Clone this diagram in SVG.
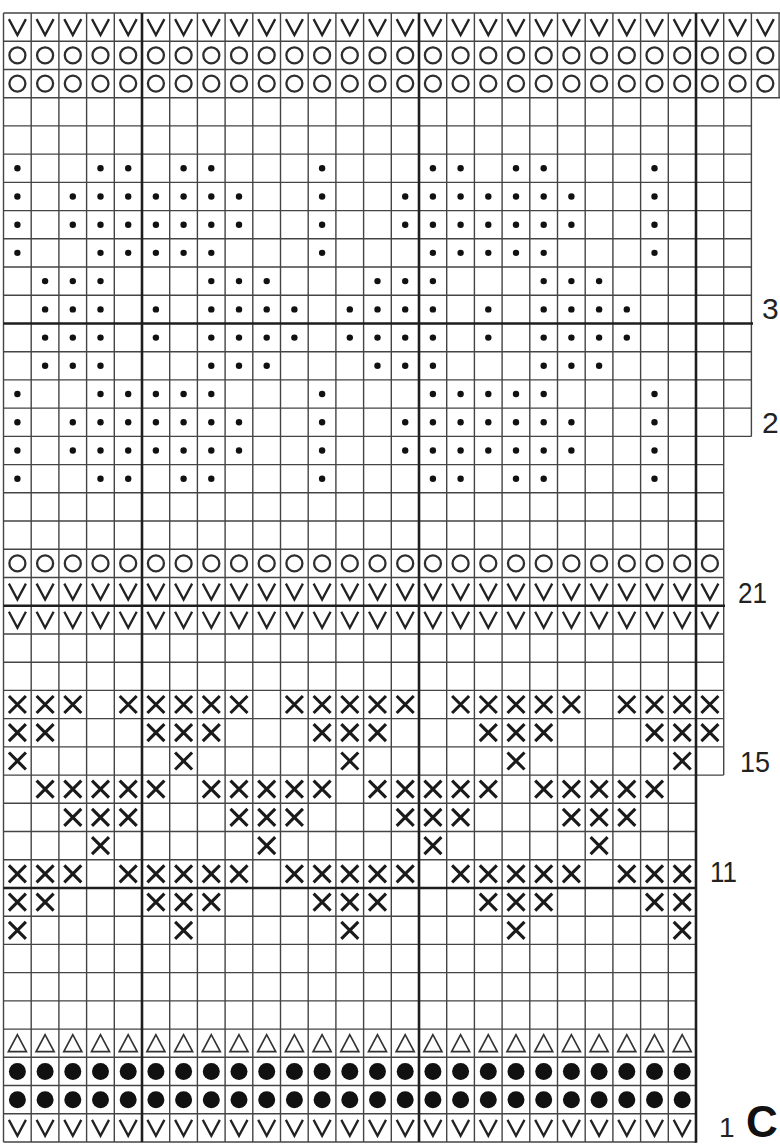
<svg xmlns="http://www.w3.org/2000/svg" width="780" height="1144" viewBox="0 0 780 1144">
<style>
.g{fill:none;stroke:#444;stroke-width:1.4}
.gt{fill:none;stroke:#1e1e1e;stroke-width:2.6}
.v{fill:none;stroke:#222;stroke-width:2.3;stroke-linejoin:miter}
.o{fill:none;stroke:#2e2e2e;stroke-width:2.3}
.d{fill:#111}
.x{fill:none;stroke:#1a1a1a;stroke-width:3.1}
.t{fill:none;stroke:#333;stroke-width:1.7}
.f{fill:#111}
.lb{font-family:"Liberation Sans",Arial,sans-serif;font-size:30px;fill:#222}
</style>
<defs>
<path id="sv" class="v" d="M-8.5,-8L0,8L8.5,-8"/>
<circle id="so" class="o" r="8"/>
<circle id="sd" class="d" r="3.2"/>
<path id="sx" class="x" d="M-8.5,-8.5L8.5,8.5M8.5,-8.5L-8.5,8.5"/>
<path id="st" class="t" d="M0,-8.5L-9,8.5H9Z"/>
<circle id="sf" class="f" r="8.5"/>
<g id="rv"><use href="#sv" x="17.4"/><use href="#sv" x="45.1"/><use href="#sv" x="72.8"/><use href="#sv" x="100.5"/><use href="#sv" x="128.2"/><use href="#sv" x="155.9"/><use href="#sv" x="183.6"/><use href="#sv" x="211.3"/><use href="#sv" x="239"/><use href="#sv" x="266.7"/><use href="#sv" x="294.4"/><use href="#sv" x="322.1"/><use href="#sv" x="349.8"/><use href="#sv" x="377.5"/><use href="#sv" x="405.2"/><use href="#sv" x="432.9"/><use href="#sv" x="460.6"/><use href="#sv" x="488.3"/><use href="#sv" x="516"/><use href="#sv" x="543.7"/><use href="#sv" x="571.4"/><use href="#sv" x="599.1"/><use href="#sv" x="626.8"/><use href="#sv" x="654.5"/><use href="#sv" x="682.2"/></g>
<g id="ro"><use href="#so" x="17.4"/><use href="#so" x="45.1"/><use href="#so" x="72.8"/><use href="#so" x="100.5"/><use href="#so" x="128.2"/><use href="#so" x="155.9"/><use href="#so" x="183.6"/><use href="#so" x="211.3"/><use href="#so" x="239"/><use href="#so" x="266.7"/><use href="#so" x="294.4"/><use href="#so" x="322.1"/><use href="#so" x="349.8"/><use href="#so" x="377.5"/><use href="#so" x="405.2"/><use href="#so" x="432.9"/><use href="#so" x="460.6"/><use href="#so" x="488.3"/><use href="#so" x="516"/><use href="#so" x="543.7"/><use href="#so" x="571.4"/><use href="#so" x="599.1"/><use href="#so" x="626.8"/><use href="#so" x="654.5"/><use href="#so" x="682.2"/></g>
<g id="rt"><use href="#st" x="17.4"/><use href="#st" x="45.1"/><use href="#st" x="72.8"/><use href="#st" x="100.5"/><use href="#st" x="128.2"/><use href="#st" x="155.9"/><use href="#st" x="183.6"/><use href="#st" x="211.3"/><use href="#st" x="239"/><use href="#st" x="266.7"/><use href="#st" x="294.4"/><use href="#st" x="322.1"/><use href="#st" x="349.8"/><use href="#st" x="377.5"/><use href="#st" x="405.2"/><use href="#st" x="432.9"/><use href="#st" x="460.6"/><use href="#st" x="488.3"/><use href="#st" x="516"/><use href="#st" x="543.7"/><use href="#st" x="571.4"/><use href="#st" x="599.1"/><use href="#st" x="626.8"/><use href="#st" x="654.5"/><use href="#st" x="682.2"/></g>
<g id="rf"><use href="#sf" x="17.4"/><use href="#sf" x="45.1"/><use href="#sf" x="72.8"/><use href="#sf" x="100.5"/><use href="#sf" x="128.2"/><use href="#sf" x="155.9"/><use href="#sf" x="183.6"/><use href="#sf" x="211.3"/><use href="#sf" x="239"/><use href="#sf" x="266.7"/><use href="#sf" x="294.4"/><use href="#sf" x="322.1"/><use href="#sf" x="349.8"/><use href="#sf" x="377.5"/><use href="#sf" x="405.2"/><use href="#sf" x="432.9"/><use href="#sf" x="460.6"/><use href="#sf" x="488.3"/><use href="#sf" x="516"/><use href="#sf" x="543.7"/><use href="#sf" x="571.4"/><use href="#sf" x="599.1"/><use href="#sf" x="626.8"/><use href="#sf" x="654.5"/><use href="#sf" x="682.2"/></g>
<g id="dA"><use href="#sd" x="17.4"/><use href="#sd" x="100.5"/><use href="#sd" x="128.2"/><use href="#sd" x="183.6"/><use href="#sd" x="211.3"/><use href="#sd" x="322.1"/><use href="#sd" x="432.9"/><use href="#sd" x="460.6"/><use href="#sd" x="516"/><use href="#sd" x="543.7"/><use href="#sd" x="654.5"/></g>
<g id="dB"><use href="#sd" x="17.4"/><use href="#sd" x="72.8"/><use href="#sd" x="100.5"/><use href="#sd" x="128.2"/><use href="#sd" x="155.9"/><use href="#sd" x="183.6"/><use href="#sd" x="211.3"/><use href="#sd" x="239"/><use href="#sd" x="322.1"/><use href="#sd" x="405.2"/><use href="#sd" x="432.9"/><use href="#sd" x="460.6"/><use href="#sd" x="488.3"/><use href="#sd" x="516"/><use href="#sd" x="543.7"/><use href="#sd" x="571.4"/><use href="#sd" x="654.5"/></g>
<g id="dC"><use href="#sd" x="17.4"/><use href="#sd" x="100.5"/><use href="#sd" x="128.2"/><use href="#sd" x="155.9"/><use href="#sd" x="183.6"/><use href="#sd" x="211.3"/><use href="#sd" x="322.1"/><use href="#sd" x="432.9"/><use href="#sd" x="460.6"/><use href="#sd" x="488.3"/><use href="#sd" x="516"/><use href="#sd" x="543.7"/><use href="#sd" x="654.5"/></g>
<g id="dD"><use href="#sd" x="45.1"/><use href="#sd" x="72.8"/><use href="#sd" x="100.5"/><use href="#sd" x="211.3"/><use href="#sd" x="239"/><use href="#sd" x="266.7"/><use href="#sd" x="377.5"/><use href="#sd" x="405.2"/><use href="#sd" x="432.9"/><use href="#sd" x="543.7"/><use href="#sd" x="571.4"/><use href="#sd" x="599.1"/></g>
<g id="dE"><use href="#sd" x="45.1"/><use href="#sd" x="72.8"/><use href="#sd" x="100.5"/><use href="#sd" x="155.9"/><use href="#sd" x="211.3"/><use href="#sd" x="239"/><use href="#sd" x="266.7"/><use href="#sd" x="294.4"/><use href="#sd" x="349.8"/><use href="#sd" x="377.5"/><use href="#sd" x="405.2"/><use href="#sd" x="432.9"/><use href="#sd" x="488.3"/><use href="#sd" x="543.7"/><use href="#sd" x="571.4"/><use href="#sd" x="599.1"/><use href="#sd" x="626.8"/></g>
<g id="x1"><use href="#sx" x="17.4"/><use href="#sx" x="45.1"/><use href="#sx" x="72.8"/><use href="#sx" x="128.2"/><use href="#sx" x="155.9"/><use href="#sx" x="183.6"/><use href="#sx" x="211.3"/><use href="#sx" x="239"/><use href="#sx" x="294.4"/><use href="#sx" x="322.1"/><use href="#sx" x="349.8"/><use href="#sx" x="377.5"/><use href="#sx" x="405.2"/><use href="#sx" x="460.6"/><use href="#sx" x="488.3"/><use href="#sx" x="516"/><use href="#sx" x="543.7"/><use href="#sx" x="571.4"/><use href="#sx" x="626.8"/><use href="#sx" x="654.5"/><use href="#sx" x="682.2"/></g>
<g id="x2"><use href="#sx" x="17.4"/><use href="#sx" x="45.1"/><use href="#sx" x="155.9"/><use href="#sx" x="183.6"/><use href="#sx" x="211.3"/><use href="#sx" x="322.1"/><use href="#sx" x="349.8"/><use href="#sx" x="377.5"/><use href="#sx" x="488.3"/><use href="#sx" x="516"/><use href="#sx" x="543.7"/><use href="#sx" x="654.5"/><use href="#sx" x="682.2"/></g>
<g id="x3"><use href="#sx" x="17.4"/><use href="#sx" x="183.6"/><use href="#sx" x="349.8"/><use href="#sx" x="516"/><use href="#sx" x="682.2"/></g>
<g id="x4"><use href="#sx" x="45.1"/><use href="#sx" x="72.8"/><use href="#sx" x="100.5"/><use href="#sx" x="128.2"/><use href="#sx" x="155.9"/><use href="#sx" x="211.3"/><use href="#sx" x="239"/><use href="#sx" x="266.7"/><use href="#sx" x="294.4"/><use href="#sx" x="322.1"/><use href="#sx" x="377.5"/><use href="#sx" x="405.2"/><use href="#sx" x="432.9"/><use href="#sx" x="460.6"/><use href="#sx" x="488.3"/><use href="#sx" x="543.7"/><use href="#sx" x="571.4"/><use href="#sx" x="599.1"/><use href="#sx" x="626.8"/><use href="#sx" x="654.5"/></g>
<g id="x5"><use href="#sx" x="72.8"/><use href="#sx" x="100.5"/><use href="#sx" x="128.2"/><use href="#sx" x="239"/><use href="#sx" x="266.7"/><use href="#sx" x="294.4"/><use href="#sx" x="405.2"/><use href="#sx" x="432.9"/><use href="#sx" x="460.6"/><use href="#sx" x="571.4"/><use href="#sx" x="599.1"/><use href="#sx" x="626.8"/></g>
<g id="x6"><use href="#sx" x="100.5"/><use href="#sx" x="266.7"/><use href="#sx" x="432.9"/><use href="#sx" x="599.1"/></g>
</defs>
<rect width="780" height="1144" fill="#fff"/>
<g id="grid">
<path class="g" d="M3.5,13H780M3.5,41.2H780M3.5,69.45H780M3.5,97.7H780
M3.5,125.9H751.4M3.5,154.1H751.4M3.5,182.35H751.4M3.5,210.6H751.4M3.5,238.8H751.4M3.5,267H751.4M3.5,295.25H751.4M3.5,351.7H751.4M3.5,379.9H751.4M3.5,408.15H751.4M3.5,436.4H751.4
M3.5,464.6H723.7M3.5,492.8H723.7M3.5,521.05H723.7M3.5,549.3H723.7M3.5,577.5H723.7M3.5,633.95H723.7M3.5,662.2H723.7M3.5,690.4H723.7M3.5,718.6H723.7M3.5,746.85H723.7M3.5,775.1H723.7
M3.5,803.3H696M3.5,831.5H696M3.5,859.75H696M3.5,916.2H696M3.5,944.4H696M3.5,972.65H696M3.5,1000.9H696M3.5,1029.1H696M3.5,1057.3H696M3.5,1085.55H696M3.5,1113.8H696M3.5,1142H696
M3.5,13V1142M31.2,13V1142M58.9,13V1142M86.6,13V1142M114.3,13V1142M169.7,13V1142M197.4,13V1142M225.1,13V1142M252.8,13V1142M280.5,13V1142M308.2,13V1142M335.9,13V1142M363.6,13V1142M391.3,13V1142M446.7,13V1142M474.4,13V1142M502.1,13V1142M529.8,13V1142M557.5,13V1142M585.2,13V1142M612.9,13V1142M640.6,13V1142M668.3,13V1142
M723.7,13V775.1M751.4,13V436.4M779.1,13V97.7"/>
<path class="gt" d="M3.5,323.5H753M3.5,605.7H725M3.5,888H697M142,13V1142M419,13V1142M696,13V1142.7"/>
</g>
<g id="symbols">
<use href="#rv" y="27.1"/><use href="#sv" x="709.9" y="27.1"/><use href="#sv" x="737.6" y="27.1"/><use href="#sv" x="765.3" y="27.1"/>
<use href="#ro" y="55.3"/><use href="#so" x="709.9" y="55.3"/><use href="#so" x="737.6" y="55.3"/><use href="#so" x="765.3" y="55.3"/>
<use href="#ro" y="83.6"/><use href="#so" x="709.9" y="83.6"/><use href="#so" x="737.6" y="83.6"/><use href="#so" x="765.3" y="83.6"/>
<use href="#dA" y="168.2"/>
<use href="#dB" y="196.5"/>
<use href="#dB" y="224.7"/>
<use href="#dC" y="252.9"/>
<use href="#dD" y="281.1"/>
<use href="#dE" y="309.4"/>
<use href="#dE" y="337.6"/>
<use href="#dD" y="365.8"/>
<use href="#dC" y="394"/>
<use href="#dB" y="422.3"/>
<use href="#dB" y="450.5"/>
<use href="#dA" y="478.7"/>
<use href="#ro" y="563.4"/><use href="#so" x="709.9" y="563.4"/>
<use href="#rv" y="591.6"/><use href="#sv" x="709.9" y="591.6"/>
<use href="#rv" y="619.8"/><use href="#sv" x="709.9" y="619.8"/>
<use href="#x1" y="704.5"/><use href="#sx" x="709.9" y="704.5"/>
<use href="#x2" y="732.7"/><use href="#sx" x="709.9" y="732.7"/>
<use href="#x3" y="761"/>
<use href="#x4" y="789.2"/>
<use href="#x5" y="817.4"/>
<use href="#x6" y="845.6"/>
<use href="#x1" y="873.9"/>
<use href="#x2" y="902.1"/>
<use href="#x3" y="930.3"/>
<use href="#rt" y="1043.2"/>
<use href="#rf" y="1071.4"/>
<use href="#rf" y="1099.7"/>
<use href="#rv" y="1127.9"/>
</g>
<g id="labels">
<text class="lb" x="762" y="319">3</text>
<text class="lb" x="762" y="433">2</text>
<text class="lb" x="738" y="603" textLength="29" lengthAdjust="spacingAndGlyphs">21</text>
<text class="lb" x="740" y="772" textLength="30" lengthAdjust="spacingAndGlyphs">15</text>
<text class="lb" x="710" y="882" textLength="27" lengthAdjust="spacingAndGlyphs">11</text>
<text class="lb" x="719" y="1137" style="font-size:28px">1</text>
<text class="lb" x="746" y="1137" style="font-size:44px;font-weight:bold;fill:#111">C</text>
</g>
</svg>
